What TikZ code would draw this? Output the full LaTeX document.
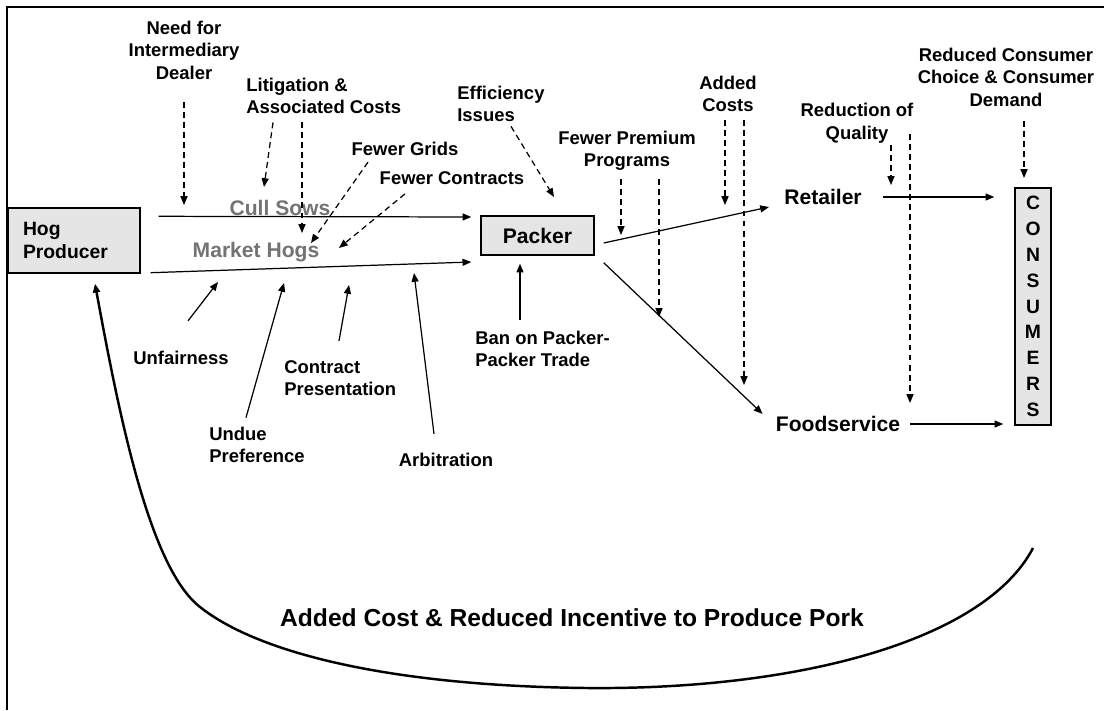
\documentclass[tikz,border=0pt]{standalone}
\usepackage{fontspec}
\setmainfont{Liberation Sans}
\usetikzlibrary{arrows.meta, positioning, calc}
\tikzset{
	block/.style = {draw, rectangle, fill=black!10, line width=0.8pt, inner sep=0pt, align=center},
	note/.style = {align=center, inner sep=0pt, font=\bfseries\fontsize{10.5}{12.8}\selectfont},
	flow/.style = {inner sep=0pt, font=\bfseries\fontsize{12}{14}\selectfont},
	arrow/.style = {-{Triangle[length=5pt, width=4pt]}, line width=0.7pt},
	dasharrow/.style = {arrow, dash pattern=on 3.4pt off 2.3pt},
}

\begin{document}
\begin{tikzpicture}[x=0.02cm, y=-0.02cm]
	\useasboundingbox (0,0) rectangle (1104,710);
	
	% Frame
	\draw[line width=0.9pt] (7,710) -- (7,7) -- (1104,7);
	
	% Supply chain
	\node[block, minimum width=2.64cm, minimum height=1.3cm, text width=2.04cm, align=left, font=\bfseries\fontsize{11}{13}\selectfont] (prod) at (74,240.5) {Hog\\Producer};
	\node[block, minimum width=2.26cm, minimum height=0.78cm, font=\bfseries\fontsize{12}{14}\selectfont] (packer) at (537.5,235.5) {Packer};
	\node[flow] (retailer) at (823,197) {Retailer};
	\node[flow] (foodsvc) at (838,424) {Foodservice};
	\node[block, minimum width=0.72cm, minimum height=4.74cm, font=\bfseries\fontsize{11}{14.7}\selectfont] (cons) at (1033,306.5) {C\\O\\N\\S\\U\\M\\E\\R\\S};
	
	% Flow labels
	\node[flow, text=black!55] (cull) at (280,208) {Cull Sows};
	\node[flow, text=black!55] (market) at (256,252) {Market Hogs};
	
	% Influences from above
	\node[note] (need) at (184,50) {Need for\\Intermediary\\Dealer};
	\node[note, align=left, anchor=west] (litig) at (246,96) {Litigation \&\\Associated Costs};
	\node[note] (grids) at (405,149) {Fewer Grids};
	\node[note] (contracts) at (452,178) {Fewer Contracts};
	\node[note, align=left, anchor=west] (effic) at (457,104) {Efficiency\\Issues};
	\node[note] (premium) at (627,151) {Fewer Premium\\Programs};
	\node[note] (added) at (728,94) {Added\\Costs};
	\node[note] (quality) at (857,123) {Reduction of\\Quality};
	\node[note] (reduced) at (1006,77) {Reduced Consumer\\Choice \& Consumer\\Demand};
	
	% Influences from below
	\node[note] (unfair) at (181,358) {Unfairness};
	\node[note, align=left, anchor=west] (undue) at (209,445) {Undue\\Preference};
	\node[note, align=left, anchor=west] (contract) at (284,378) {Contract\\Presentation};
	\node[note] (arbit) at (446,460) {Arbitration};
	\node[note, align=left, anchor=west] (ban) at (475,349) {Ban on Packer-\\Packer Trade};
	
	% Feedback
	\node[inner sep=0pt, font=\bfseries\fontsize{14}{16}\selectfont] (pork) at (572,618) {Added Cost \& Reduced Incentive to Produce Pork};
	
	% Arrow ends on the flows
	\coordinate (needtip) at (184,205);
	\coordinate (littip) at (264,187);
	\coordinate (littipb) at (302,233);
	\coordinate (gridtip) at (311,243);
	\coordinate (contip) at (339,248);
	\coordinate (efftip) at (554,197);
	\coordinate (premtip) at (621,235);
	\coordinate (premtipb) at (659,317);
	\coordinate (addtip) at (725,205);
	\coordinate (addtipb) at (744,385);
	\coordinate (qualtip) at (891,185);
	\coordinate (qualtipb) at (910,403);
	\coordinate (redtip) at (1024,178);
	\coordinate (unftip) at (218,282);
	\coordinate (undtip) at (284,283);
	\coordinate (contrtip) at (349,285);
	\coordinate (arbtip) at (414,273);
	\coordinate (loopstart) at (1033,548);
	\coordinate (loopbot) at (587,688);
	
	% Connections
	\draw[arrow] ($(prod.north east)+(18,9)$) -- ($(packer.west)+(-9,-18.5)$);
	\draw[arrow] ($(prod.south east)+(10,-1)$) -- ($(packer.west)+(-9,26.5)$);
	\draw[arrow] ($(packer.east)+(9,7.5)$) -- ($(retailer.west)+(-15,10)$);
	\draw[arrow] ($(packer.south east)+(9,7)$) -- ($(foodsvc.north west)+(-13,-2)$);
	\draw[arrow, shorten <=0.42cm, shorten >=0.4cm] (retailer.east) -- (retailer.east -| cons.west);
	\draw[arrow, shorten <=0.2cm, shorten >=0.22cm] (foodsvc.east) -- (foodsvc.east -| cons.west);
	
	% Dashed arrows
	\draw[dasharrow] ($(need.south)+(0,22)$) -- (needtip);
	\draw[dasharrow] ($(litig.south west)+(27,8)$) -- (littip);
	\draw[dasharrow] ($(litig.south west)+(56,8)$) -- (littipb);
	\draw[dasharrow] ($(grids.south)+(-37,6)$) -- (gridtip);
	\draw[dasharrow] ($(contracts.south)+(-47,9)$) -- (contip);
	\draw[dasharrow] ($(effic.south west)+(54,4)$) -- (efftip);
	\draw[dasharrow] ($(premium.south)+(-6,8)$) -- (premtip);
	\draw[dasharrow] ($(premium.south)+(32,8)$) -- (premtipb);
	\draw[dasharrow] ($(added.south)+(-3,8)$) -- (addtip);
	\draw[dasharrow] ($(added.south)+(16,8)$) -- (addtipb);
	\draw[dasharrow] ($(quality.south)+(34,2)$) -- (qualtip);
	\draw[dasharrow] ($(quality.south)+(53,-9)$) -- (qualtipb);
	\draw[dasharrow] ($(reduced.south)+(18,14)$) -- (redtip);
	
	% Solid arrows from below
	\draw[arrow] ($(unfair.north)+(7,-30)$) -- (unftip);
	\draw[arrow] ($(undue.north west)+(37,-9)$) -- (undtip);
	\draw[arrow] ($(contract.north west)+(55,-19)$) -- (contrtip);
	\draw[arrow] ($(arbit.north)+(-12,-19)$) -- (arbtip);
	\draw[arrow] ($(ban.north west)+(45,-11)$) -- ($(packer.south)+(-17.5,8)$);
	
	% Feedback loop
	\draw[arrow, line width=1.4pt] (loopstart) .. controls (985,640) and (800,690) .. (loopbot) .. controls (400,686) and (262,656) .. (200,607) .. controls (150,568) and (120,420) .. ($(prod.south)+(21,10)$);
	
\end{tikzpicture}
\end{document}
